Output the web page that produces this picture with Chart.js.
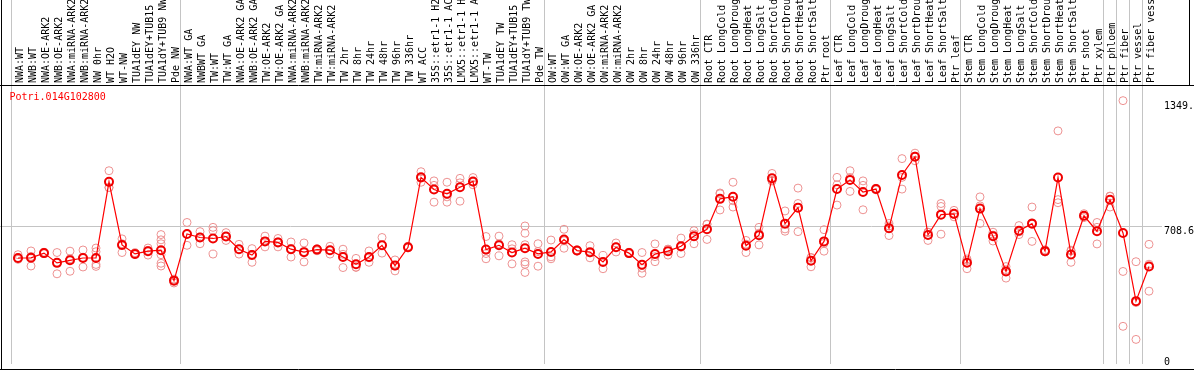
<!DOCTYPE html>
<html>
<head>
<meta charset="utf-8">
<script src="https://cdn.jsdelivr.net/npm/chart.js@4.4.1/dist/chart.umd.min.js"></script>
<style>
  html, body { margin: 0; padding: 0; background: #fff; }
  canvas { display: block; }
</style>
</head>
<body>
<canvas id="exprChart" width="1194" height="370"></canvas>
<script>
const geneId = 'Potri.014G102800';

const categories = [
  'NWA:WT', 'NWB:WT', 'NWA:OE-ARK2', 'NWB:OE-ARK2', 'NWA:miRNA-ARK2', 'NWB:miRNA-ARK2',
  'NW 0hr', 'WT H2O', 'WT-NW', 'TUA1dEY NW', 'TUA1dEY+TUB15', 'TUA1dY+TUB9 NW', 'Pde NW',
  'NWA:WT GA', 'NWBWT GA', 'TW:WT', 'TW:WT GA', 'NWA:OE-ARK2 GA', 'NWB:OE-ARK2 GA',
  'TW:OE-ARK2', 'TW:OE-ARK2 GA', 'NWA:miRNA-ARK2', 'NWB:miRNA-ARK2', 'TW:miRNA-ARK2',
  'TW:miRNA-ARK2', 'TW 2hr', 'TW 8hr', 'TW 24hr', 'TW 48hr', 'TW 96hr', 'TW 336hr',
  'WT ACC', '35S::etr1-1 H2O', '35S::etr1-1 ACC', 'LMX5::etr1-1 H2O', 'LMX5::etr1-1 ACC',
  'WT-TW', 'TUA1dEY TW', 'TUA1dEY+TUB15', 'TUA1dY+TUB9 TW', 'Pde TW',
  'OW:WT', 'OW:WT GA', 'OW:OE-ARK2', 'OW:OE-ARK2 GA', 'OW:miRNA-ARK2', 'OW:miRNA-ARK2',
  'OW 2hr', 'OW 8hr', 'OW 24hr', 'OW 48hr', 'OW 96hr', 'OW 336hr',
  'Root CTR', 'Root LongCold', 'Root LongDrought', 'Root LongHeat', 'Root LongSalt',
  'Root ShortCold', 'Root ShortDrought', 'Root ShortHeat', 'Root ShortSalt', 'Ptr root',
  'Leaf CTR', 'Leaf LongCold', 'Leaf LongDrought', 'Leaf LongHeat', 'Leaf LongSalt',
  'Leaf ShortCold', 'Leaf ShortDrought', 'Leaf ShortHeat', 'Leaf ShortSalt', 'Ptr leaf',
  'Stem CTR', 'Stem LongCold', 'Stem LongDrought', 'Stem LongHeat', 'Stem LongSalt',
  'Stem ShortCold', 'Stem ShortDrought', 'Stem ShortHeat', 'Stem ShortSalt', 'Ptr shoot',
  'Ptr xylem', 'Ptr phloem', 'Ptr fiber', 'Ptr vessel', 'Ptr fiber vessel'
];

// mean expression per sample
const means = [
  543, 544, 568, 518, 531, 543, 543, 933, 610, 564, 578, 583, 427,
  666, 648, 643, 653, 588, 558, 628, 623, 588, 573, 586, 583, 548, 511, 548,
  608, 504, 598, 956, 894, 872, 905, 935, 586, 608, 571, 593, 564,
  574, 638, 581, 573, 523, 598, 568, 509, 563, 578, 603, 655,
  690, 846, 857, 606, 660, 951, 719, 801, 529, 628,
  896, 943, 881, 896, 695, 968, 1062, 661, 765, 769,
  519, 796, 655, 474, 683, 719, 578, 955, 561, 759, 680,
  841, 671, 322, 499
];

// individual replicates per sample
const replicates = [
  [560, 536, 540], [579, 502, 551], [572, 565, 568], [571, 462, 520], [578, 475, 539],
  [584, 497, 547], [594, 575, 510, 500], [990, 904, 904], [641, 571, 616], [560, 570, 562],
  [594, 558, 582], [663, 636, 616, 560, 516, 502], [435, 430, 415],
  [725, 608, 665], [678, 616, 650], [700, 683, 563], [673, 633, 653], [613, 563, 588],
  [591, 521, 562], [655, 600, 629], [643, 600, 626], [625, 548, 591], [620, 523, 576],
  [580, 590, 588], [603, 563, 583], [588, 494, 562], [541, 496, 495], [579, 521, 544],
  [648, 568, 608], [533, 477, 502], [603, 595, 596], [985, 931, 952], [938, 829, 915],
  [931, 829, 856], [951, 834, 928], [955, 918, 931], [653, 539, 566], [655, 554, 615],
  [611, 513, 590], [707, 670, 611, 523, 511, 469], [616, 501, 576],
  [635, 539, 549], [690, 593, 631], [585, 578, 580], [606, 544, 569], [556, 488, 524],
  [620, 574, 600], [572, 565, 568], [571, 465, 491], [615, 524, 550], [588, 558, 588],
  [645, 566, 598], [683, 616, 666],
  [717, 638, 715], [876, 789, 872], [931, 804, 836], [633, 571, 614], [700, 610, 670],
  [976, 940, 937], [784, 680, 692], [901, 678, 822], [544, 498, 546], [688, 578, 618],
  [956, 814, 918], [990, 884, 955], [938, 790, 915], [900, 892, 896], [720, 658, 707],
  [1052, 896, 956], [1080, 1065, 1041], [675, 633, 675], [822, 807, 665], [787, 754, 766],
  [538, 488, 531], [856, 720, 810], [675, 630, 660], [499, 440, 483], [709, 663, 677],
  [804, 628, 724], [585, 575, 574], [1194, 842, 826], [583, 521, 579], [770, 750, 757],
  [725, 615, 700],
  [859, 804, 860], [1349, 474, 193], [524, 126, 315], [613, 373, 511]
];

// group separators (index of first sample in each group)
const groupBreaks = [0, 13, 41, 53, 63, 73, 84, 85, 86, 87, 88];

const yTickValues = [0, 708.6, 1349];
const yTickLabels = ['0', '708.6', '1349.'];

const MONO = "'DejaVu Sans Mono', 'Liberation Mono', monospace";

document.addEventListener('DOMContentLoaded', function () {
    const canvas = document.getElementById('exprChart');
    const ctx = canvas.getContext('2d');

    const maxReps = Math.max(...replicates.map(r => r.length));
    const repSets = [];
    for (let k = 0; k < maxReps; k++) {
        repSets.push({
            data: replicates.map(r => (r[k] === undefined ? null : r[k])),
            showLine: false,
            pointStyle: 'circle',
            pointRadius: 4,
            pointBorderWidth: 1,
            pointBorderColor: 'rgba(236, 140, 140, 0.95)',
            pointBackgroundColor: 'rgba(0,0,0,0)',
            order: 2
        });
    }

    // frame, title, reference line and right-hand value labels
    const decor = {
        id: 'decor',
        beforeDatasetsDraw(chart) {
            const c = chart.ctx;
            const y = chart.scales.y;
            const py = Math.round(y.getPixelForValue(yTickValues[1])) + 0.5;
            c.save();
            c.strokeStyle = '#c4c4c4';
            c.lineWidth = 1;
            c.beginPath();
            c.moveTo(0, py);
            c.lineTo(1162, py);
            c.stroke();
            c.restore();
        },
        afterDraw(chart) {
            const c = chart.ctx;
            const area = chart.chartArea;
            const y = chart.scales.y;
            c.save();
            c.strokeStyle = '#000';
            c.lineWidth = 1;
            c.beginPath();
            c.moveTo(0, area.top - 0.5);
            c.lineTo(1194, area.top - 0.5);
            c.moveTo(1.5, 0);
            c.lineTo(1.5, 370);
            c.moveTo(0, 369.5);
            c.lineTo(1194, 369.5);
            c.moveTo(1189.5, 0);
            c.lineTo(1189.5, area.top);
            c.stroke();

            c.font = '10px ' + MONO;
            c.textBaseline = 'top';
            c.textAlign = 'left';
            c.fillStyle = '#ff0000';
            c.fillText(geneId, 9.5, 92);

            c.fillStyle = '#000';
            yTickValues.forEach(function (v, i) {
                const py = Math.min(y.getPixelForValue(v) + 1, 357);
                c.fillText(yTickLabels[i], 1164, py);
            });
            c.restore();
        }
    };

    new Chart(ctx, {
        type: 'line',
        data: {
            labels: categories,
            datasets: [{
                data: means,
                borderColor: '#ff0000',
                borderWidth: 1.2,
                tension: 0,
                fill: false,
                pointStyle: 'circle',
                pointRadius: 4,
                pointBorderWidth: 2,
                pointBorderColor: '#f00000',
                pointBackgroundColor: 'rgba(0,0,0,0)',
                order: 1
            }].concat(repSets)
        },
        options: {
            responsive: false,
            animation: false,
            events: [],
            layout: {
                padding: { left: 11.5, right: 38.5, top: 0, bottom: 0.7 }
            },
            plugins: {
                legend: { display: false },
                tooltip: { enabled: false }
            },
            scales: {
                x: {
                    type: 'category',
                    position: 'top',
                    offset: true,
                    afterFit: function (scale) { scale.height = 86; },
                    grid: {
                        offset: true,
                        drawOnChartArea: true,
                        drawTicks: true,
                        tickLength: 86,
                        lineWidth: 1,
                        color: function (c) {
                            return groupBreaks.includes(c.index) ? '#c4c4c4' : 'rgba(0,0,0,0)';
                        }
                    },
                    border: { display: false },
                    ticks: {
                        autoSkip: false,
                        minRotation: 90,
                        maxRotation: 90,
                        padding: -83,
                        labelOffset: 12,
                        color: '#000',
                        font: { family: MONO, size: 10, lineHeight: 1 }
                    }
                },
                y: {
                    position: 'right',
                    min: 0,
                    max: 1424,
                    afterFit: function (scale) { scale.width = 0; },
                    grid: { display: false },
                    border: { display: false },
                    ticks: { display: false }
                }
            }
        },
        plugins: [decor]
    });
});
</script>
</body>
</html>
